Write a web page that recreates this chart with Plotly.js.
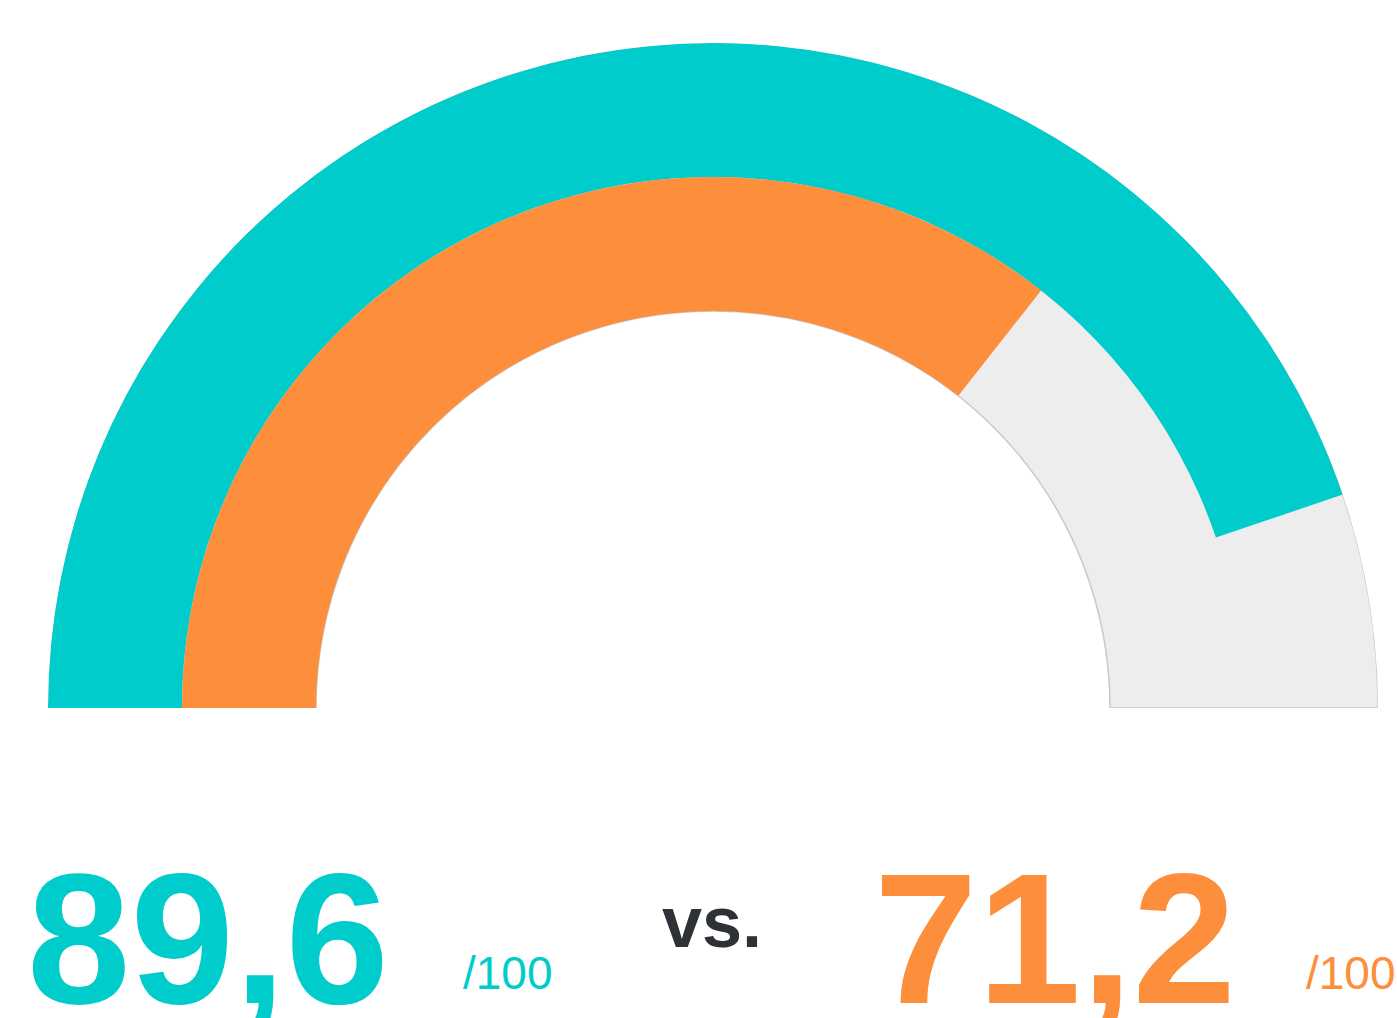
<!DOCTYPE html>
<html>
<head>
<meta charset="utf-8">
<script src="https://cdn.plot.ly/plotly-3.0.1.min.js"></script>
<style>html,body{margin:0;padding:0;background:#fff;}#chart{width:1397px;height:1018px;}</style>
</head>
<body>
<div id="chart"></div>
<script>
// ---- data ----
var seriesNames = ["Score A", "Score B"];
var scores = [89.6, 71.2];
var maxScore = 100;
var scoreLabels = ["89,6", "71,2"];
var maxLabel = "/100";
var vsLabel = "vs.";

// ---- styling / geometry ----
var colors = ["#00CCCB", "#FC8E3C"];
var trackColor = "#EDEDED";
var trackLine = "#C9C9C9";
var ringInner = [531, 397];   // inner radius of each ring
var ringWidth = 134;          // thickness of each ring
var outerR = 665;
var degPerUnit = 180 / maxScore;

var traces = [];
// gray track behind both rings
traces.push({
  type: "barpolar",
  r: [outerR - ringInner[1]],
  base: [ringInner[1]],
  theta: [maxScore * degPerUnit / 2],
  width: [maxScore * degPerUnit],
  marker: {color: trackColor, line: {color: trackLine, width: 1.5}},
  hoverinfo: "skip",
  showlegend: false
});
for (var i = 0; i < scores.length; i++) {
  traces.push({
    type: "barpolar",
    name: seriesNames[i],
    r: [ringWidth],
    base: [ringInner[i]],
    theta: [scores[i] * degPerUnit / 2],
    width: [scores[i] * degPerUnit],
    marker: {color: colors[i], line: {width: 0}},
    showlegend: false
  });
}

var W = 1397, H = 1018;
var cx = 713, cy = 708;
function px(x){return x / W;}
function py(y){return 1 - y / H;}

var fam = "Liberation Sans, Arial, sans-serif";
var annotations = [
  {text: "<b>" + scoreLabels[0] + "</b>", x: px(25), y: py(938), xref: "paper", yref: "paper",
   xanchor: "left", yanchor: "middle", showarrow: false,
   font: {family: fam, size: 186, color: colors[0]}},
  {text: maxLabel, x: px(461), y: py(973), xref: "paper", yref: "paper",
   xanchor: "left", yanchor: "middle", showarrow: false,
   font: {family: fam, size: 46, color: colors[0]}},
  {text: "<b>" + vsLabel + "</b>", x: px(712), y: py(922), xref: "paper", yref: "paper",
   xanchor: "center", yanchor: "middle", showarrow: false,
   font: {family: fam, size: 72, color: "#2E3136"}},
  {text: "<b>" + scoreLabels[1] + "</b>", x: px(872), y: py(938), xref: "paper", yref: "paper",
   xanchor: "left", yanchor: "middle", showarrow: false,
   font: {family: fam, size: 186, color: colors[1]}},
  {text: maxLabel, x: px(1304), y: py(973), xref: "paper", yref: "paper",
   xanchor: "left", yanchor: "middle", showarrow: false,
   font: {family: fam, size: 46, color: colors[1]}}
];

var layout = {
  width: W, height: H,
  margin: {l: 0, r: 0, t: 0, b: 0, pad: 0},
  paper_bgcolor: "#ffffff",
  plot_bgcolor: "#ffffff",
  showlegend: false,
  polar: {
    domain: {x: [px(cx - outerR), px(cx + outerR)], y: [py(cy), py(cy - outerR)]},
    sector: [0, 180],
    bgcolor: "rgba(0,0,0,0)",
    radialaxis: {range: [0, outerR], visible: false, showgrid: false, showline: false, showticklabels: false, ticks: ""},
    angularaxis: {rotation: 180, direction: "clockwise", visible: false, showgrid: false, showline: false, showticklabels: false, ticks: ""}
  },
  annotations: annotations
};

Plotly.newPlot("chart", traces, layout, {displayModeBar: false, staticPlot: true});
</script>
</body>
</html>
